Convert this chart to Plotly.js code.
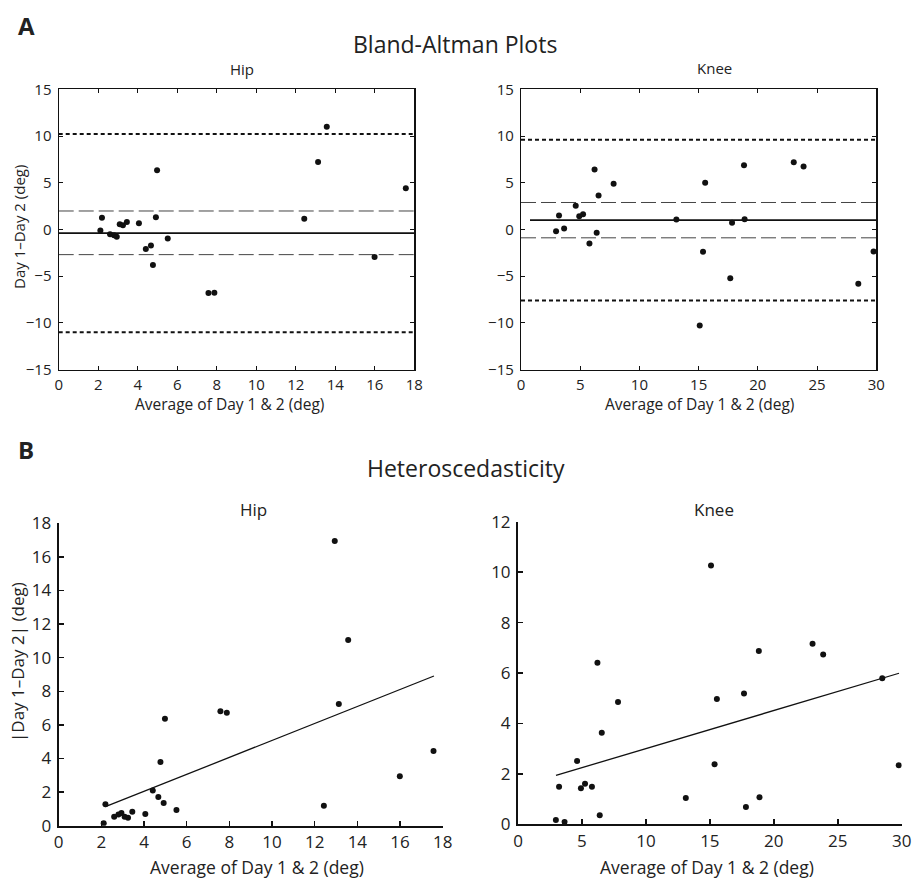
<!DOCTYPE html>
<html>
<head>
<meta charset="utf-8">
<script src="https://cdn.plot.ly/plotly-3.0.1.min.js"></script>
<style>html,body{margin:0;padding:0;background:#fff;}#chart{width:916px;height:879px;}</style>
</head>
<body>
<div id="chart"></div>
<script>
// ---- Data ----
var hipAvg  = [2.11, 2.19, 2.60, 2.80, 2.94, 3.09, 3.25, 3.45, 4.06, 4.41, 4.67, 4.77, 4.92, 4.98, 5.52, 7.58, 7.88, 12.43, 12.94, 13.13, 13.57, 15.99, 17.57];
var hipDiff = [-0.10, 1.27, -0.50, -0.62, -0.78, 0.55, 0.45, 0.80, 0.66, -2.09, -1.70, -3.80, 1.30, 6.33, -0.95, -6.80, -6.76, 1.16, -16.95, 7.22, 11.00, -2.94, 4.40];
var hipAbsDiff = [0.14, 1.27, 0.54, 0.67, 0.75, 0.54, 0.48, 0.83, 0.69, 2.10, 1.71, 3.79, 1.35, 6.37, 0.93, 6.81, 6.73, 1.19, 16.95, 7.24, 11.05, 2.94, 4.45];

var kneeAvg  = [2.96, 3.21, 3.64, 4.62, 4.92, 5.24, 5.78, 6.21, 6.39, 6.55, 7.82, 13.12, 15.09, 15.37, 15.55, 17.67, 17.82, 18.83, 18.88, 23.03, 23.86, 28.48, 29.77];
var kneeDiff = [-0.18, 1.50, 0.10, 2.53, 1.43, 1.64, -1.50, 6.42, -0.36, 3.64, 4.89, 1.07, -10.27, -2.39, 4.99, -5.21, 0.71, 6.88, 1.10, 7.20, 6.74, -5.81, -2.36];
var kneeAbsDiff = [0.17, 1.49, 0.09, 2.51, 1.43, 1.61, 1.49, 6.41, 0.36, 3.63, 4.85, 1.04, 10.26, 2.38, 4.97, 5.19, 0.69, 6.87, 1.07, 7.16, 6.73, 5.79, 2.34];

// Bland-Altman reference lines: mean, [upper CI, lower CI], [upper LoA, lower LoA]
var hipMean = -0.39;
var hipCI   = [1.98, -2.69];
var hipLoA  = [10.22, -10.99];
var hipMeanX = [0, 18];
var kneeMean = 1.0;
var kneeCI   = [2.89, -0.89];
var kneeLoA  = [9.60, -7.60];
var kneeMeanX = [0.76, 30];

// Heteroscedasticity regression lines
var hipFitX  = [2.19, 17.59];
var hipFitY  = [1.13, 8.91];
var kneeFitX = [2.97, 29.79];
var kneeFitY = [1.94, 5.99];

// Axis ranges
var hipXRange = [0, 18], kneeXRange = [0, 30];
var baYRange = [-15, 15];
var hipAbsYRange = [0, 18], kneeAbsYRange = [0, 12];

// Titles
var titleA = "Bland-Altman Plots";
var titleB = "Heteroscedasticity";
var subHip = "Hip", subKnee = "Knee";
var xTitle = "Average of Day 1 & 2 (deg)";
var yTitleA = "Day 1\u2013Day 2 (deg)";
var yTitleB = "|Day 1\u2013Day 2| (deg)";

// ---- Build ----
var FONT = "Open Sans, Noto Sans, sans-serif";
var W = 916, H = 879;
function px(x){ return x / W; }
function py(y){ return 1 - y / H; }

function hline(xr, y, xa, ya, dash, width, color){
  return {x: xr, y: [y, y], xaxis: xa, yaxis: ya, mode: 'lines', hoverinfo: 'skip',
          line: {color: color, width: width, dash: dash}, showlegend: false};
}
function pts(x, y, xa, ya){
  return {x: x, y: y, xaxis: xa, yaxis: ya, mode: 'markers', type: 'scatter',
          marker: {color: '#111', size: 6}, showlegend: false, cliponaxis: true};
}

var DOT = '4px,3px';
var DASH = '15px,5px';
var traces = [];
// A hip
traces.push(hline(hipXRange, hipLoA[0], 'x', 'y', DOT, 2, '#111'));
traces.push(hline(hipXRange, hipLoA[1], 'x', 'y', DOT, 2, '#111'));
traces.push(hline(hipXRange, hipCI[0], 'x', 'y', DASH, 1, '#444'));
traces.push(hline(hipXRange, hipCI[1], 'x', 'y', DASH, 1, '#444'));
traces.push(hline(hipMeanX, hipMean, 'x', 'y', 'solid', 1.6, '#111'));
traces.push(pts(hipAvg, hipDiff, 'x', 'y'));
// A knee
traces.push(hline(kneeXRange, kneeLoA[0], 'x2', 'y2', DOT, 2, '#111'));
traces.push(hline(kneeXRange, kneeLoA[1], 'x2', 'y2', DOT, 2, '#111'));
traces.push(hline(kneeXRange, kneeCI[0], 'x2', 'y2', DASH, 1, '#444'));
traces.push(hline(kneeXRange, kneeCI[1], 'x2', 'y2', DASH, 1, '#444'));
traces.push(hline(kneeMeanX, kneeMean, 'x2', 'y2', 'solid', 1.6, '#111'));
traces.push(pts(kneeAvg, kneeDiff, 'x2', 'y2'));
// B hip
traces.push({x: hipFitX, y: hipFitY, xaxis: 'x3', yaxis: 'y3', mode: 'lines', line: {color: '#111', width: 1.3}, showlegend: false});
traces.push(pts(hipAvg, hipAbsDiff, 'x3', 'y3'));
// B knee
traces.push({x: kneeFitX, y: kneeFitY, xaxis: 'x4', yaxis: 'y4', mode: 'lines', line: {color: '#111', width: 1.3}, showlegend: false});
traces.push(pts(kneeAvg, kneeAbsDiff, 'x4', 'y4'));

function axA(range, dtick, domain, anchor, isY){
  return {range: range, dtick: dtick, tick0: 0, domain: domain, anchor: anchor,
          showline: true, mirror: 'ticks', linecolor: '#111', linewidth: 1.2,
          ticks: 'inside', ticklen: 4, tickcolor: '#111', tickwidth: 1,
          ticklabelstandoff: isY ? 3 : 1,
          showgrid: false, zeroline: false, fixedrange: true,
          tickfont: {family: FONT, size: 15, color: '#222'}};
}
function axB(range, dtick, domain, anchor, isY){
  return {range: range, dtick: dtick, tick0: 0, domain: domain, anchor: anchor,
          showline: true, mirror: false, linecolor: '#111', linewidth: 2,
          ticks: 'inside', ticklen: 5, tickcolor: '#111', tickwidth: 1.5,
          ticklabelstandoff: isY ? 2 : 0,
          showgrid: false, zeroline: false, fixedrange: true,
          tickfont: {family: FONT, size: 17, color: '#222'}};
}

var layout = {
  width: W, height: H,
  margin: {l: 0, r: 0, t: 0, b: 0},
  paper_bgcolor: '#fff', plot_bgcolor: '#fff',
  showlegend: false,
  font: {family: FONT, color: '#222'},
  xaxis:  axA(hipXRange, 2, [px(58.7), px(414.3)], 'y', false),
  yaxis:  axA(baYRange, 5, [py(369.7), py(89.3)], 'x', true),
  xaxis2: axA(kneeXRange, 5, [px(521), px(876.3)], 'y2', false),
  yaxis2: axA(baYRange, 5, [py(369.7), py(89.3)], 'x2', true),
  xaxis3: axB(hipXRange, 2, [px(58.7), px(442.7)], 'y3', false),
  yaxis3: axB(hipAbsYRange, 2, [py(825.7), py(523.3)], 'x3', true),
  xaxis4: axB(kneeXRange, 5, [px(518), px(901.7)], 'y4', false),
  yaxis4: axB(kneeAbsYRange, 2, [py(824.3), py(521.7)], 'x4', true),
  annotations: [
    {text: '<b>A</b>', x: px(26), y: py(26), size: 24},
    {text: titleA, x: px(455), y: py(44), size: 23},
    {text: subHip, x: px(242), y: py(69), size: 15},
    {text: subKnee, x: px(714), y: py(68), size: 15},
    {text: xTitle, x: px(229), y: py(404), size: 15.5},
    {text: xTitle, x: px(699), y: py(404), size: 15.5},
    {text: yTitleA, x: px(19), y: py(227), size: 15, angle: -90},
    {text: '<b>B</b>', x: px(26), y: py(449), size: 24},
    {text: titleB, x: px(466), y: py(468), size: 23},
    {text: subHip, x: px(253), y: py(509), size: 17},
    {text: subKnee, x: px(714), y: py(509), size: 17},
    {text: xTitle, x: px(257), y: py(867), size: 17.5},
    {text: xTitle, x: px(707), y: py(867), size: 17.5},
    {text: yTitleB, x: px(17), y: py(662), size: 17, angle: -90}
  ].map(function(a){
    return {text: a.text, x: a.x, y: a.y, xref: 'paper', yref: 'paper',
            xanchor: 'center', yanchor: 'middle', showarrow: false,
            textangle: a.angle || 0,
            font: {family: FONT, size: a.size, color: '#222'}};
  })
};

Plotly.newPlot('chart', traces, layout, {staticPlot: true, displayModeBar: false});
</script>
</body>
</html>
